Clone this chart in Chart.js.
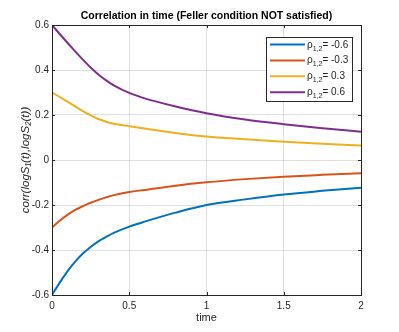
<!DOCTYPE html>
<html>
<head>
<meta charset="utf-8">
<script src="https://cdn.jsdelivr.net/npm/chart.js@4.4.1/dist/chart.umd.min.js"></script>
<style>
	html, body { margin: 0; padding: 0; background: #fff; }
	#wrap { width: 399px; height: 332px; position: relative; }
</style>
</head>
<body>
<div id="wrap"><canvas id="myChart"></canvas></div>
<script>
(() => {
	"use strict";

	// values
	const times = [0, 0.05, 0.1, 0.15, 0.2, 0.25, 0.3, 0.35, 0.4, 0.5, 0.6, 0.8, 1.0, 1.25, 1.5, 1.75, 2.0];
	const rhoValues = [-0.6, -0.3, 0.3, 0.6];
	const corrRhoNeg06 = [-0.6, -0.545, -0.495, -0.452, -0.416, -0.387, -0.362, -0.342, -0.324, -0.296, -0.274, -0.234, -0.2, -0.175, -0.153, -0.137, -0.123];
	const corrRhoNeg03 = [-0.3, -0.27, -0.244, -0.222, -0.205, -0.19, -0.177, -0.166, -0.156, -0.142, -0.133, -0.114, -0.099, -0.085, -0.074, -0.066, -0.059];
	const corrRhoPos03 = [0.3, 0.28, 0.259, 0.238, 0.217, 0.198, 0.182, 0.17, 0.161, 0.15, 0.14, 0.12, 0.104, 0.092, 0.081, 0.072, 0.064];
	const corrRhoPos06 = [0.6, 0.56, 0.521, 0.483, 0.446, 0.411, 0.38, 0.354, 0.332, 0.298, 0.274, 0.238, 0.208, 0.18, 0.159, 0.141, 0.126];
	const xTicks = [0, 0.5, 1, 1.5, 2];
	const yTicks = [-0.6, -0.4, -0.2, 0, 0.2, 0.4, 0.6];

	const seriesValues = [corrRhoNeg06, corrRhoNeg03, corrRhoPos03, corrRhoPos06];
	const lineColors = ["#0072BD", "#D95319", "#EDB120", "#7E2F8E"];
	const axisColor = "#262626";

	const fmt = (v) => String(Math.round(v * 10) / 10);

	// MATLAB style box with inward ticks
	const axesBox = {
		id: "axesBox",
		afterDatasetsDraw(chart) {
			const { ctx, chartArea: a, scales } = chart;
			ctx.save();
			ctx.strokeStyle = axisColor;
			ctx.lineWidth = 1;
			ctx.beginPath();
			xTicks.forEach((t) => {
				const x = Math.round(scales.x.getPixelForValue(t)) + 0.5;
				ctx.moveTo(x, a.bottom); ctx.lineTo(x, a.bottom - 3);
				ctx.moveTo(x, a.top); ctx.lineTo(x, a.top + 3);
			});
			yTicks.forEach((t) => {
				const y = Math.round(scales.y.getPixelForValue(t)) + 0.5;
				ctx.moveTo(a.left, y); ctx.lineTo(a.left + 3, y);
				ctx.moveTo(a.right, y); ctx.lineTo(a.right - 3, y);
			});
			ctx.stroke();
			ctx.strokeRect(Math.round(a.left) + 0.5, Math.round(a.top) + 0.5,
				Math.round(a.right - a.left), Math.round(a.bottom - a.top));
			ctx.restore();
		},
	};

	// boxed legend in the upper right corner
	const legendBox = {
		id: "legendBox",
		afterDraw(chart) {
			const { ctx, chartArea: a } = chart;
			const w = 86, h = 64;
			const left = Math.round(a.right - 9 - w), top = Math.round(a.top + 12);
			ctx.save();
			ctx.fillStyle = "#fff";
			ctx.fillRect(left, top, w, h);
			ctx.strokeStyle = axisColor;
			ctx.lineWidth = 1;
			ctx.strokeRect(left + 0.5, top + 0.5, w, h);
			chart.data.datasets.forEach((ds, i) => {
				const y = top + 7.5 + i * 15.9;
				ctx.strokeStyle = ds.borderColor;
				ctx.lineWidth = 2;
				ctx.beginPath();
				ctx.moveTo(left + 4, y);
				ctx.lineTo(left + 39, y);
				ctx.stroke();
				ctx.fillStyle = axisColor;
				ctx.textBaseline = "alphabetic";
				let x = left + 41;
				ctx.font = "10px 'Liberation Sans'";
				ctx.fillText("\u03C1", x, y + 3);
				x += ctx.measureText("\u03C1").width;
				ctx.font = "7px 'Liberation Sans'";
				ctx.fillText("1,2", x, y + 6);
				x += ctx.measureText("1,2").width;
				ctx.font = "10px 'Liberation Sans'";
				ctx.fillText("= " + fmt(rhoValues[i]), x, y + 3);
			});
			ctx.restore();
		},
	};

	const ctx = document.getElementById("myChart");
	// eslint-disable-next-line no-unused-vars
	const myChart = new Chart(ctx, {
		type: "line",
		data: {
			datasets: seriesValues.map((vals, i) => ({
				label: "\u03C11,2= " + fmt(rhoValues[i]),
				data: times.map((t, k) => ({ x: t, y: vals[k] })),
				borderColor: lineColors[i],
				backgroundColor: lineColors[i],
				borderWidth: 2,
				pointRadius: 0,
				cubicInterpolationMode: "monotone",
				fill: false,
			})),
		},
		options: {
			responsive: true,
			maintainAspectRatio: false,
			animation: false,
			devicePixelRatio: 1,
			layout: { padding: { top: 0, right: 38, bottom: 0, left: 0 } },
			plugins: {
				legend: { display: false },
				tooltip: { enabled: false },
				title: {
					display: true,
					fullSize: false,
					text: "Correlation in time (Feller condition NOT satisfied)",
					color: "#000",
					font: { family: "'Liberation Sans'", size: 10.5, weight: "bold" },
					padding: { top: 10, bottom: 2.4 },
				},
			},
			scales: {
				x: {
					type: "linear",
					min: 0,
					max: 2,
					afterFit: (s) => { s.height = 37; },
					afterBuildTicks: (s) => { s.ticks = xTicks.map((v) => ({ value: v })); },
					ticks: {
						color: axisColor,
						font: { family: "'Liberation Sans'", size: 10 },
						padding: 5,
						maxRotation: 0,
						callback: (v) => fmt(v),
					},
					grid: { color: "rgba(38,38,38,0.15)", drawTicks: false },
					border: { display: false },
					title: {
						display: true,
						text: "time",
						color: axisColor,
						font: { family: "'Liberation Sans'", size: 11 },
						padding: { top: 0, bottom: 7.5 },
					},
				},
				y: {
					type: "linear",
					min: -0.6,
					max: 0.6,
					afterFit: (s) => { s.width = 52; },
					afterBuildTicks: (s) => { s.ticks = yTicks.map((v) => ({ value: v })); },
					ticks: {
						color: axisColor,
						font: { family: "'Liberation Sans'", size: 10 },
						padding: 3,
						callback: (v) => fmt(v),
					},
					grid: { color: "rgba(38,38,38,0.15)", drawTicks: false },
					border: { display: false },
					title: {
						display: true,
						text: "corr(logS\u2081(t),logS\u2082(t))",
						color: axisColor,
						font: { family: "'Liberation Sans'", size: 11.5, style: "italic" },
						padding: { top: 19, bottom: 0 },
					},
				},
			},
		},
		plugins: [axesBox, legendBox],
	});
})();
</script>
</body>
</html>
